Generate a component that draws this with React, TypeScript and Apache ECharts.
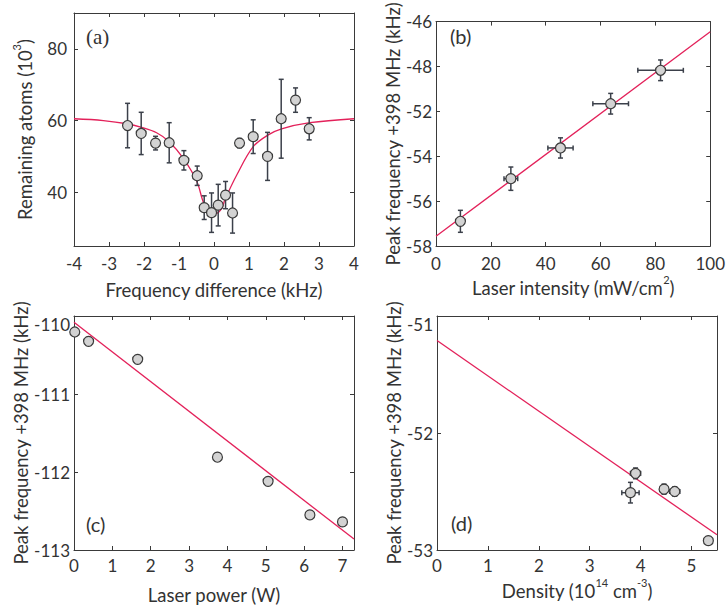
import React, { useEffect, useRef } from "react";
import * as echarts from "echarts";

// ---------- Panel (a) ----------
const aX = [-2.47, -2.08, -1.67, -1.28, -0.86, -0.48, -0.28, -0.07, 0.12, 0.33, 0.53, 0.73, 1.12, 1.53, 1.92, 2.33, 2.72];
const aY = [58.6, 56.4, 53.7, 53.8, 48.9, 44.6, 35.7, 34.3, 36.4, 39.2, 34.2, 53.7, 55.5, 50.0, 60.5, 65.7, 57.7];
const aErr = [6.2, 5.9, 1.9, 5.6, 2.7, 2.7, 3.3, 5.5, 5.8, 3.8, 5.6, 1.3, 4.7, 6.7, 11.0, 3.4, 3.1];
const aFitX = [-4, -3.16, -2.48, -2.07, -1.64, -1.28, -0.88, -0.49, -0.29, -0.11, 0.06, 0.22, 0.31, 0.65, 1.12, 1.55, 1.93, 2.74, 4];
const aFitY = [60.5, 60.0, 59.1, 58.1, 56.6, 54.1, 49.5, 43.0, 36.9, 34.8, 34.1, 35.5, 37.9, 44.8, 52.7, 56.0, 57.7, 59.4, 60.5];
const aXTicks = [-4, -3, -2, -1, 0, 1, 2, 3, 4];
const aYTicks = [40, 60, 80];

// ---------- Panel (b) ----------
const bX = [8.9, 27.3, 45.4, 63.7, 81.9];
const bY = [-56.9, -55.0, -53.63, -51.66, -50.17];
const bYErr = [0.49, 0.52, 0.45, 0.46, 0.46];
const bXErr = [0, 2.5, 4.6, 6.5, 8.3];
const bFitX = [0, 100];
const bFitY = [-57.57, -48.45];
const bYTickLabels = ["-58", "-56", "-54", "-52", "-48", "-46"];

// ---------- Panel (c) ----------
const cX = [0.02, 0.38, 1.66, 3.74, 5.06, 6.15, 7.0];
const cY = [-110.205, -110.325, -110.556, -111.81, -112.12, -112.55, -112.64];
const cErr = [0.03, 0.05, 0.04, 0.05, 0.03, 0.03, 0.05];
const cFitX = [0, 7.3];
const cFitY = [-110.08, -112.86];
const cXTicks = [0, 1, 2, 3, 4, 5, 6, 7];

// ---------- Panel (d) ----------
const dX = [3.8, 3.9, 4.46, 4.67, 5.33];
const dY = [-52.51, -52.345, -52.48, -52.5, -52.92];
const dYErr = [0.088, 0.046, 0.043, 0.04, 0.02];
const dXErr = [0.17, 0.1, 0.085, 0.1, 0.03];
const dFitX = [0, 5.5];
const dFitY = [-51.21, -52.87];
const dXTicks = [0, 1, 2, 3, 4, 5];

const FONT = "Lato";
const TXT = "#333333";
const AX = "#3a3a3a";
const RED = "#e3215a";
const ERR = "#3b404a";

const grids = [
  { left: 74, top: 13, width: 280, height: 233 },
  { left: 436, top: 13, width: 281, height: 233 },
  { left: 74, top: 316, width: 280, height: 234 },
  { left: 437, top: 316, width: 280, height: 234 },
];

const rich = {
  n: { fontSize: 18.5, fontFamily: FONT, color: TXT, verticalAlign: "bottom", lineHeight: 23 },
  s: { fontSize: 11, fontFamily: FONT, color: TXT, verticalAlign: "top", lineHeight: 23 },
};

function errRender(params: any, api: any) {
  const x = api.value(0);
  const y = api.value(1);
  const ey = api.value(2);
  const ex = api.value(3);
  const c = api.coord([x, y]);
  const style = { stroke: ERR, lineWidth: 1.5 };
  const cap = 2.5;
  const children: any[] = [];
  if (ey > 0) {
    const t = api.coord([x, y + ey]);
    const b = api.coord([x, y - ey]);
    children.push({ type: "line", shape: { x1: c[0], y1: t[1], x2: c[0], y2: b[1] }, style });
    children.push({ type: "line", shape: { x1: c[0] - cap, y1: t[1], x2: c[0] + cap, y2: t[1] }, style });
    children.push({ type: "line", shape: { x1: c[0] - cap, y1: b[1], x2: c[0] + cap, y2: b[1] }, style });
  }
  if (ex > 0) {
    const l = api.coord([x - ex, y]);
    const r = api.coord([x + ex, y]);
    children.push({ type: "line", shape: { x1: l[0], y1: c[1], x2: r[0], y2: c[1] }, style });
    children.push({ type: "line", shape: { x1: l[0], y1: c[1] - cap, x2: l[0], y2: c[1] + cap }, style });
    children.push({ type: "line", shape: { x1: r[0], y1: c[1] - cap, x2: r[0], y2: c[1] + cap }, style });
  }
  return { type: "group", children };
}

function mkX(gi: number, opt: any) {
  const base = {
    type: "value",
    gridIndex: gi,
    min: opt.min,
    max: opt.max,
    interval: opt.interval,
    splitLine: { show: false },
    axisLine: { show: true, onZero: false, lineStyle: { color: AX, width: 1 } },
    axisTick: { show: true, inside: true, length: 4, lineStyle: { color: AX }, customValues: opt.ticks },
  };
  return [
    {
      ...base,
      position: "bottom",
      name: opt.name,
      nameLocation: "middle",
      nameGap: opt.nameGap,
      nameTextStyle: { rich },
      axisLabel: {
        show: true,
        margin: opt.margin,
        fontSize: 17,
        fontFamily: FONT,
        color: TXT,
        customValues: opt.ticks,
      },
    },
    { ...base, position: "top", axisLabel: { show: false } },
  ];
}

function mkY(gi: number, opt: any) {
  const base = {
    type: "value",
    gridIndex: gi,
    min: opt.min,
    max: opt.max,
    interval: opt.interval,
    splitLine: { show: false },
    axisLine: { show: true, onZero: false, lineStyle: { color: AX, width: 1 } },
    axisTick: { show: true, inside: true, length: 4, lineStyle: { color: AX }, customValues: opt.ticks },
  };
  return [
    {
      ...base,
      position: "left",
      name: opt.name,
      nameLocation: "middle",
      nameGap: opt.nameGap,
      nameTextStyle: { rich },
      axisLabel: {
        show: true,
        margin: opt.margin,
        fontSize: 17,
        fontFamily: FONT,
        color: TXT,
        customValues: opt.ticks,
        formatter: opt.formatter,
        verticalAlignMaxLabel: opt.topAlign ? "top" : undefined,
      },
    },
    { ...base, position: "right", axisLabel: { show: false } },
  ];
}

function zip(...arrs: number[][]) {
  return arrs[0].map((_, i) => arrs.map((a) => a[i]));
}

function panelSeries(gi: number, fitX: number[], fitY: number[], pts: number[][], smooth: boolean) {
  const xi = gi * 2;
  const yi = gi * 2;
  return [
    {
      type: "line",
      xAxisIndex: xi,
      yAxisIndex: yi,
      data: zip(fitX, fitY),
      smooth: smooth ? 0.35 : false,
      showSymbol: false,
      symbol: "none",
      lineStyle: { color: RED, width: 1.3 },
      z: 2,
    },
    {
      type: "custom",
      xAxisIndex: xi,
      yAxisIndex: yi,
      renderItem: errRender,
      dimensions: ["x", "y", "ey", "ex"],
      encode: { x: 0, y: 1 },
      data: pts,
      z: 3,
    },
    {
      type: "scatter",
      xAxisIndex: xi,
      yAxisIndex: yi,
      data: pts.map((p) => [p[0], p[1]]),
      symbol: "circle",
      symbolSize: 10,
      clip: false,
      itemStyle: { color: "#d3d3d3", borderColor: "#3a3a3a", borderWidth: 1.2, opacity: 1 },
      z: 4,
    },
  ];
}

export default function App() {
  const ref = useRef<HTMLDivElement>(null);
  useEffect(() => {
    if (!ref.current) return;
    const chart = echarts.init(ref.current, null, { renderer: "svg" });

    const xAxis = [
      ...mkX(0, { min: -4, max: 4, interval: 1, ticks: aXTicks, name: "{n|Frequency difference (kHz)}", nameGap: 30, margin: 9 }),
      ...mkX(1, { min: 0, max: 100, interval: 20, name: "{n|Laser intensity (mW/cm}{s|2}{n|)}", nameGap: 28, margin: 9 }),
      ...mkX(2, { min: 0, max: 7.3, interval: 1, ticks: cXTicks, name: "{n|Laser power (W)}", nameGap: 31, margin: 7 }),
      ...mkX(3, { min: 0, max: 5.5, interval: 1, ticks: dXTicks, name: "{n|Density (10}{s|14}{n| cm}{s|-3}{n|)}", nameGap: 27, margin: 7 }),
    ];
    const yAxis = [
      ...mkY(0, { min: 25, max: 90, ticks: aYTicks, name: "{n|Remaining atoms (10}{s|3}{n|)}", nameGap: 40, margin: 7 }),
      ...mkY(1, {
        min: -58,
        max: -48,
        interval: 2,
        name: "{n|Peak frequency +398 MHz (kHz)}",
        nameGap: 34,
        margin: 4,
        formatter: (v: number, i: number) => bYTickLabels[i] ?? String(v),
      }),
      ...mkY(2, { min: -113, max: -110, interval: 1, name: "{n|Peak frequency +398 MHz (kHz)}", nameGap: 39, margin: 4, topAlign: true }),
      ...mkY(3, { min: -53, max: -51, interval: 1, name: "{n|Peak frequency +398 MHz (kHz)}", nameGap: 34, margin: 4, topAlign: true }),
    ];

    const aPts = zip(aX, aY, aErr, aX.map(() => 0));
    const bPts = zip(bX, bY, bYErr, bXErr);
    const cPts = zip(cX, cY, cErr, cX.map(() => 0));
    const dPts = zip(dX, dY, dYErr, dXErr);

    const series = [
      ...panelSeries(0, aFitX, aFitY, aPts, true),
      ...panelSeries(1, bFitX, bFitY, bPts, false),
      ...panelSeries(2, cFitX, cFitY, cPts, false),
      ...panelSeries(3, dFitX, dFitY, dPts, false),
    ];

    const labelStyle = (font: string, size: number) => ({ fontSize: size, fontFamily: font, fill: TXT });
    chart.setOption({
      animation: false,
      backgroundColor: "#ffffff",
      grid: grids,
      xAxis,
      yAxis,
      series,
      graphic: [
        { type: "text", left: 86, top: 26, style: { text: "(a)", ...labelStyle("Liberation Serif", 21) } },
        { type: "text", left: 450, top: 26, style: { text: "(b)", ...labelStyle(FONT, 20) } },
        { type: "text", left: 86, top: 514, style: { text: "(c)", ...labelStyle(FONT, 20) } },
        { type: "text", left: 451, top: 513, style: { text: "(d)", ...labelStyle(FONT, 20) } },
      ],
    });
    return () => chart.dispose();
  }, []);
  return (
    <div
      ref={ref}
      style={{ position: "fixed", left: 0, top: 0, width: 728, height: 608, background: "#fff" }}
    />
  );
}
